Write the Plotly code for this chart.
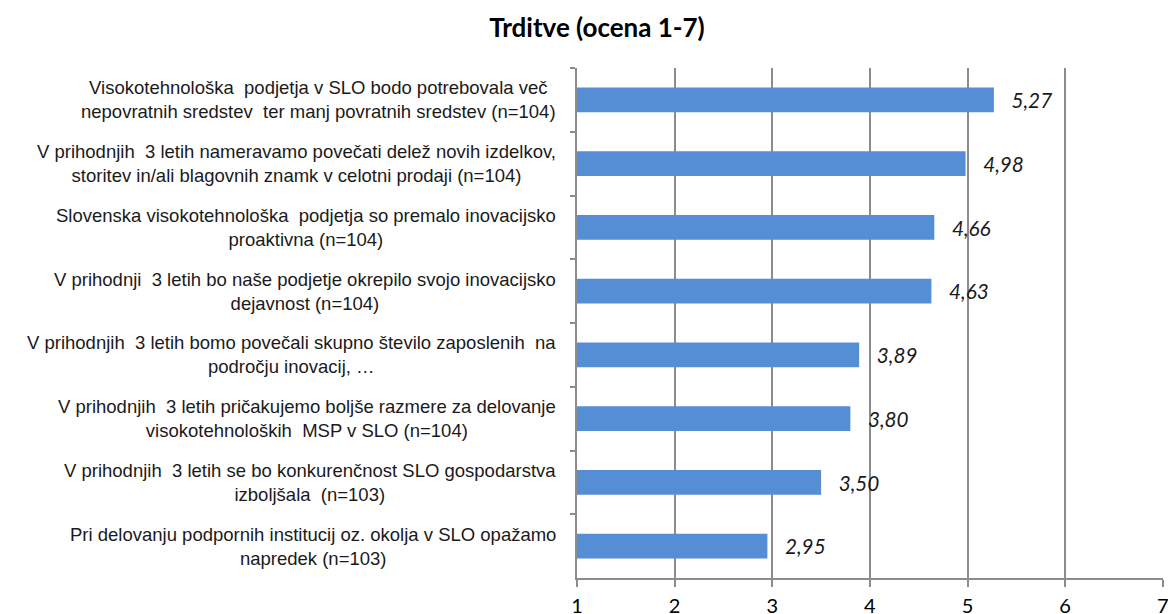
import plotly.graph_objects as go

categories = [
    "Visokotehnološka  podjetja v SLO bodo potrebovala več<br>nepovratnih sredstev  ter manj povratnih sredstev (n=104)",
    "V prihodnjih  3 letih nameravamo povečati delež novih izdelkov,<br>storitev in/ali blagovnih znamk v celotni prodaji (n=104)",
    "Slovenska visokotehnološka  podjetja so premalo inovacijsko<br>proaktivna (n=104)",
    "V prihodnji  3 letih bo naše podjetje okrepilo svojo inovacijsko<br>dejavnost (n=104)",
    "V prihodnjih  3 letih bomo povečali skupno število zaposlenih  na<br>področju inovacij, …",
    "V prihodnjih  3 letih pričakujemo boljše razmere za delovanje<br>visokotehnoloških  MSP v SLO (n=104)",
    "V prihodnjih  3 letih se bo konkurenčnost SLO gospodarstva<br>izboljšala  (n=103)",
    "Pri delovanju podpornih institucij oz. okolja v SLO opažamo<br>napredek (n=103)",
]
values = [5.27, 4.98, 4.66, 4.63, 3.89, 3.80, 3.50, 2.95]
x_ticks = [1, 2, 3, 4, 5, 6, 7]
title_text = "Trditve (ocena 1-7)"

ids = [f"c{i}" for i in range(len(categories))]

fig = go.Figure()
fig.add_trace(go.Bar(
    x=values,
    y=ids,
    orientation="h",
    width=0.39,
    marker=dict(color="#558ED5", line=dict(width=0)),
    texttemplate="   %{x:.2f}",
    textposition="outside",
    cliponaxis=False,
    textfont=dict(family="Lato, Open Sans, sans-serif", size=25, color="#1a1a1a", style="italic"),
    hoverinfo="skip",
))

for cid, lab in zip(ids, categories):
    fig.add_annotation(
        xref="paper", yref="y", x=0, y=cid,
        text=lab, showarrow=False,
        xanchor="right", yanchor="middle", align="center",
        xshift=-19,
        font=dict(family="Liberation Sans, Arial, sans-serif", size=18.5, color="#1a1a1a"),
    )

fig.update_layout(
    width=1168, height=614,
    margin=dict(l=577, r=5, t=68, b=36, autoexpand=False),
    paper_bgcolor="white", plot_bgcolor="white",
    separators=", ",
    showlegend=False,
    title=dict(
        text=f"<b>{title_text}</b>",
        x=597 / 1168, xref="container", xanchor="center",
        y=1 - 28 / 614, yref="container", yanchor="middle",
        font=dict(family="Lato, Open Sans, sans-serif", size=26, color="#000000"),
    ),
)
fig.update_xaxes(
    range=[1, 7.002],
    tickvals=x_ticks,
    ticktext=[str(t) for t in x_ticks],
    showgrid=True, gridcolor="#8C8C8C", gridwidth=1.5,
    showline=True, linecolor="#8C8C8C", linewidth=1.5,
    ticks="outside", ticklen=7, tickcolor="#8C8C8C", tickwidth=1.5,
    ticklabelstandoff=2,
    ticklabeloverflow="allow",
    tickfont=dict(family="Lato, Open Sans, sans-serif", size=20, color="#000000"),
    zeroline=False,
    automargin=False,
)
fig.update_yaxes(
    categoryorder="array", categoryarray=ids,
    autorange="reversed",
    showticklabels=False,
    showline=True, linecolor="#8C8C8C", linewidth=1.5,
    ticks="outside", ticklen=5, tickcolor="#8C8C8C", tickwidth=1.5,
    tickson="boundaries",
    showgrid=False,
    automargin=False,
)

fig.write_html(
    "out.html",
    config={"displayModeBar": False},
    post_script="document.body.style.margin='0';document.body.style.overflow='hidden';",
)
